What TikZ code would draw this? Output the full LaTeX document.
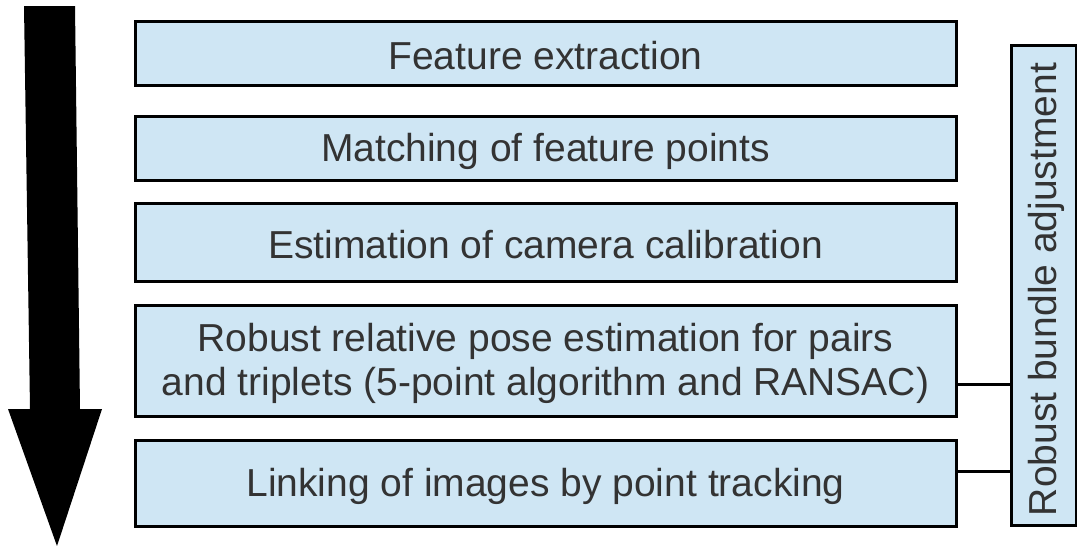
\documentclass[tikz,border=0pt]{standalone}
\usepackage{fontspec}
\setmainfont{Liberation Sans}
\definecolor{boxfill}{RGB}{207,230,244}
\definecolor{txt}{RGB}{51,51,51}
\newcommand\dn[1]{\raisebox{-3pt}[\height][\depth]{#1}}
\begin{document}
\begin{tikzpicture}[x=1pt,y=-1pt,
  stage/.style={draw=black,line width=3pt,fill=boxfill,text=txt,
    minimum width=821pt,inner sep=0pt,align=center,
    font=\fontsize{39}{44}\selectfont},
  link/.style={draw=black,line width=3pt}]
\useasboundingbox (0,0) rectangle (1077,546);
\fill[black] (24,6) -- (75,6) -- (80,409) -- (102,409) -- (57,546) -- (8,409) -- (30,409) -- cycle;
\node[stage,minimum height=64pt] (b1) at (545.5,53) {\dn{Feature extraction}};
\node[stage,minimum height=64pt] (b2) at (545.5,148) {\dn{Matching of feature points}};
\node[stage,minimum height=78pt] (b3) at (545.5,242) {\dn{Estimation of camera calibration}};
\node[stage,minimum height=111pt] (b4) at (545.5,360.5) {\raisebox{-4pt}[\height][\depth]{\begin{tabular}{@{}c@{}}Robust relative pose estimation for pairs\\and triplets (5-point algorithm and RANSAC)\end{tabular}}};
\node[stage,minimum height=86pt] (b5) at (545.5,483) {\dn{Linking of images by point tracking}};
\node[stage,minimum width=480pt,minimum height=65pt,rotate=90] (rb) at (1043.5,285) {\dn{Robust bundle adjustment\hspace{9pt}}};
\draw[link] ([yshift=-23.5pt]b4.east) -- ([yshift=-23.5pt]b4.east -| rb.north);
\draw[link] ([yshift=12pt]b5.east) -- ([yshift=12pt]b5.east -| rb.north);
\end{tikzpicture}
\end{document}
